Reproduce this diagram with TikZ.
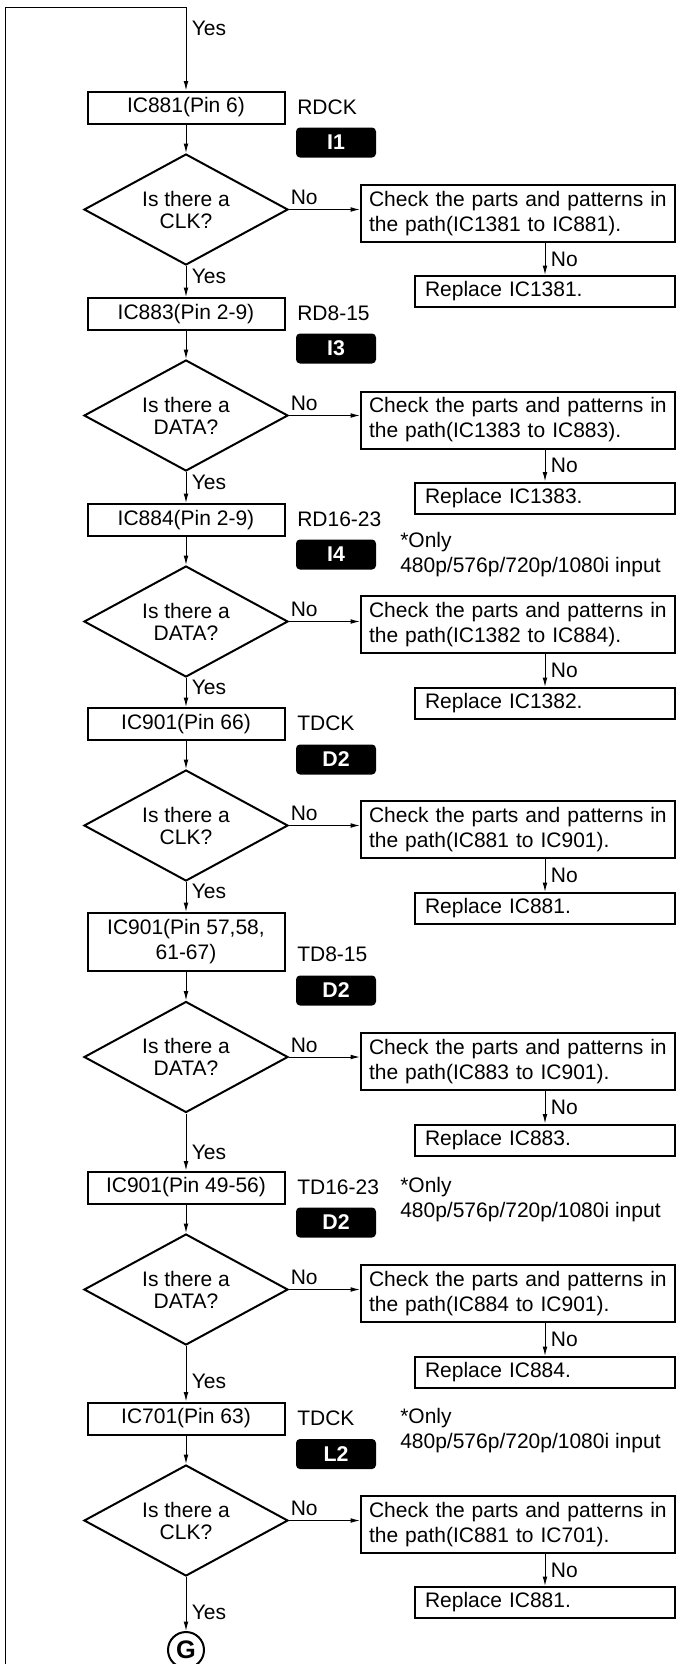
\documentclass[tikz,border=0pt]{standalone}
\usepackage{fontspec}
\setmainfont{Liberation Sans}
\usetikzlibrary{arrows.meta,shapes.geometric}
\tikzset{flow/.style={-{Latex[length=7pt,width=3.5pt]},line width=.75pt},
 icbox/.style={draw,line width=1.5pt,minimum width=147.75pt,minimum height=24pt,inner sep=2pt,align=center},
 query/.style={draw,diamond,aspect=1.84,line width=1.5pt,minimum width=153pt,minimum height=83.25pt,
  inner sep=0pt,align=center,font=\fontsize{15.75}{16.5}\selectfont},
 checkbox/.style={draw,line width=1.5pt,text width=223.5pt,minimum height=42.75pt,inner xsep=6pt,inner ysep=2pt,align=left},
 replbox/.style={draw,line width=1.5pt,text width=180pt,minimum height=23.25pt,inner xsep=7.5pt,inner ysep=2pt,align=left},
 tag/.style={fill=black,text=white,font=\fontsize{16}{18}\selectfont\bfseries,rounded corners=3pt,
  minimum width=60pt,minimum height=22.5pt,inner sep=0pt},
 sig/.style={anchor=west,inner sep=0pt},
 note/.style={anchor=west,inner sep=0pt,align=left},
 lbl/.style={inner xsep=4pt,inner ysep=0pt},
 nolbl/.style={anchor=south west,inner xsep=1pt,inner ysep=3pt},
 goto/.style={draw,circle,line width=1.5pt,minimum size=27pt,inner sep=0pt,font=\fontsize{19}{19}\selectfont\bfseries},
 every node/.style={font=\fontsize{15.75}{18.75}\selectfont}}

\begin{document}
\begin{tikzpicture}[x=.75pt,y=-.75pt]
\useasboundingbox (0,0) rectangle (682,1664);
\coordinate (entry) at (5,1664);
\coordinate (corner) at (5,7);
% RDCK
\node[icbox] (b1) at (186,107.5) {IC881(Pin 6)};
\node[sig] (s1) at (297,107) {RDCK};
\node[tag] (t1) at (336,142.5) {I1};
\node[query] (d1) at (186,209.5) {Is there a\\CLK?};
\node[checkbox] (c1) at (518,213.5) {Check the parts and patterns in\\the path(IC1381 to IC881).};
\node[replbox] (r1) at (545,291.5) {Replace IC1381.};
% RD8-15
\node[icbox] (b2) at (186,314) {IC883(Pin 2-9)};
\node[sig] (s2) at (297,313) {RD8-15};
\node[tag] (t2) at (336,348.5) {I3};
\node[query] (d2) at (186,415.5) {Is there a\\DATA?};
\node[checkbox] (c2) at (518,420) {Check the parts and patterns in\\the path(IC1383 to IC883).};
\node[replbox] (r2) at (545,498) {Replace IC1383.};
% RD16-23
\node[icbox] (b3) at (186,520) {IC884(Pin 2-9)};
\node[sig] (s3) at (297,519) {RD16-23};
\node[tag] (t3) at (336,554.5) {I4};
\node[note] (n3) at (400,555) {*Only\\480p/576p/720p/1080i input};
\node[query] (d3) at (186,621.5) {Is there a\\DATA?};
\node[checkbox] (c3) at (518,624.5) {Check the parts and patterns in\\the path(IC1382 to IC884).};
\node[replbox] (r3) at (545,703.5) {Replace IC1382.};
% TDCK
\node[icbox] (b4) at (186,724) {IC901(Pin 66)};
\node[sig] (s4) at (297,723) {TDCK};
\node[tag] (t4) at (336,759.5) {D2};
\node[query] (d4) at (186,825.5) {Is there a\\CLK?};
\node[checkbox] (c4) at (518,829.5) {Check the parts and patterns in\\the path(IC881 to IC901).};
\node[replbox] (r4) at (545,908.5) {Replace IC881.};
% TD8-15
\node[icbox,minimum height=43.5pt] (b5) at (186,942) {IC901(Pin 57,58,\\61-67)};
\node[sig] (s5) at (297,954) {TD8-15};
\node[tag] (t5) at (336,990.5) {D2};
\node[query] (d5) at (186,1057) {Is there a\\DATA?};
\node[checkbox] (c5) at (518,1061.5) {Check the parts and patterns in\\the path(IC883 to IC901).};
\node[replbox] (r5) at (545,1140) {Replace IC883.};
% TD16-23
\node[icbox] (b6) at (186,1187.5) {IC901(Pin 49-56)};
\node[sig] (s6) at (297,1187) {TD16-23};
\node[note] (n6) at (400,1200) {*Only\\480p/576p/720p/1080i input};
\node[tag] (t6) at (336,1222.5) {D2};
\node[query] (d6) at (186,1289.5) {Is there a\\DATA?};
\node[checkbox] (c6) at (518,1293.5) {Check the parts and patterns in\\the path(IC884 to IC901).};
\node[replbox] (r6) at (545,1372.5) {Replace IC884.};
% TDCK (IC701)
\node[icbox] (b7) at (186,1418.5) {IC701(Pin 63)};
\node[sig] (s7) at (297,1418) {TDCK};
\node[note] (n7) at (400,1431) {*Only\\480p/576p/720p/1080i input};
\node[tag] (t7) at (336,1454) {L2};
\node[query] (d7) at (186,1520.5) {Is there a\\CLK?};
\node[checkbox] (c7) at (518,1524.5) {Check the parts and patterns in\\the path(IC881 to IC701).};
\node[replbox] (r7) at (545,1602.5) {Replace IC881.};
\node[goto] (g) at (186,1650) {G};

\draw[flow] (entry) -- (corner) -| node[pos=.625,lbl,right] {Yes} (b1);
\draw[flow] (b1) -- (d1);
\draw[flow] (d1.east) -- node[pos=0,nolbl] {No} (d1.east -| c1.west);
\draw[flow] (c1.south -| r1.north) -- node[midway,lbl,right] {No} (r1.north);
\draw[flow] (d1) -- node[pos=.33,lbl,right] {Yes} (b2);
\draw[flow] (b2) -- (d2);
\draw[flow] (d2.east) -- node[pos=0,nolbl] {No} (d2.east -| c2.west);
\draw[flow] (c2.south -| r2.north) -- node[midway,lbl,right] {No} (r2.north);
\draw[flow] (d2) -- node[pos=.35,lbl,right] {Yes} (b3);
\draw[flow] (b3) -- (d3);
\draw[flow] (d3.east) -- node[pos=0,nolbl] {No} (d3.east -| c3.west);
\draw[flow] (c3.south -| r3.north) -- node[midway,lbl,right] {No} (r3.north);
\draw[flow] (d3) -- node[pos=.34,lbl,right] {Yes} (b4);
\draw[flow] (b4) -- (d4);
\draw[flow] (d4.east) -- node[pos=0,nolbl] {No} (d4.east -| c4.west);
\draw[flow] (c4.south -| r4.north) -- node[midway,lbl,right] {No} (r4.north);
\draw[flow] (d4) -- node[pos=.3,lbl,right] {Yes} (b5);
\draw[flow] (b5) -- (d5);
\draw[flow] (d5.east) -- node[pos=0,nolbl] {No} (d5.east -| c5.west);
\draw[flow] (c5.south -| r5.north) -- node[midway,lbl,right] {No} (r5.north);
\draw[flow] (d5) -- node[pos=.68,lbl,right] {Yes} (b6);
\draw[flow] (b6) -- (d6);
\draw[flow] (d6.east) -- node[pos=0,nolbl] {No} (d6.east -| c6.west);
\draw[flow] (c6.south -| r6.north) -- node[midway,lbl,right] {No} (r6.north);
\draw[flow] (d6) -- node[pos=.64,lbl,right] {Yes} (b7);
\draw[flow] (b7) -- (d7);
\draw[flow] (d7.east) -- node[pos=0,nolbl] {No} (d7.east -| c7.west);
\draw[flow] (c7.south -| r7.north) -- node[midway,lbl,right] {No} (r7.north);
\draw[flow] (d7) -- node[pos=.65,lbl,right] {Yes} (g);
\end{tikzpicture}
\end{document}
